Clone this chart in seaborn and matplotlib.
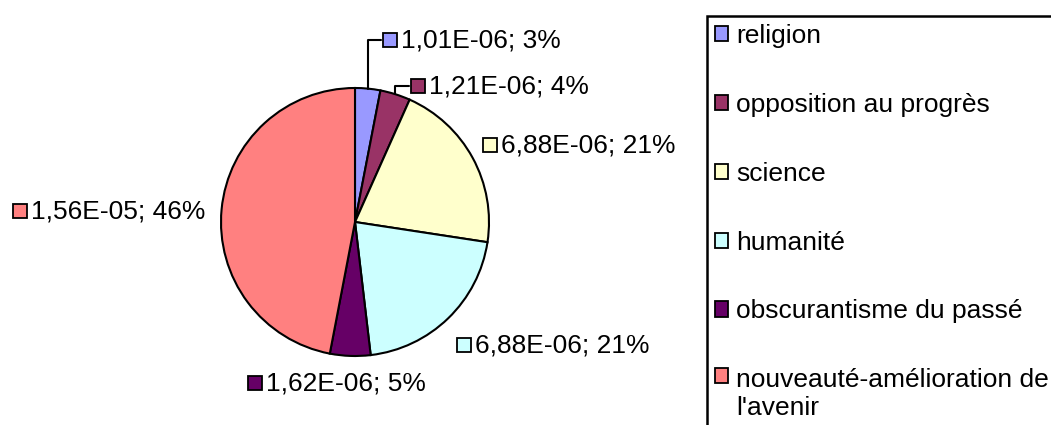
import matplotlib
matplotlib.use("Agg")
import matplotlib.pyplot as plt
from matplotlib.patches import Patch
import numpy as np
import seaborn as sns

# data
categories = ["religion", "opposition au progrès", "science", "humanité",
              "obscurantisme du passé", "nouveauté-amélioration de\nl'avenir"]
values = [1.01e-06, 1.21e-06, 6.88e-06, 6.88e-06, 1.62e-06, 1.56e-05]
value_text = ["1,01E-06", "1,21E-06", "6,88E-06", "6,88E-06", "1,62E-06", "1,56E-05"]
percent_text = ["3%", "4%", "21%", "21%", "5%", "46%"]
colors = ["#9999FF", "#993366", "#FFFFCC", "#CCFFFF", "#660066", "#FF8080"]

sns.set_theme(style="white")
plt.rcParams["font.family"] = ["Liberation Sans", "DejaVu Sans"]
plt.rcParams["text.color"] = "black"

W, H = 1051, 425
fig = plt.figure(figsize=(W / 100, H / 100), dpi=100)
ax = fig.add_axes([0, 0, 1, 1])

cx, cy, r = 355, H - 222, 134
wedges, _ = ax.pie(values, colors=colors, startangle=90, counterclock=False,
                   center=(cx, cy), radius=r, frame=True,
                   wedgeprops=dict(edgecolor="black", linewidth=1.5))
ax.set_xlim(0, W)
ax.set_ylim(0, H)
ax.set_aspect("equal")
ax.axis("off")

# label anchor (square marker centre) in pixel space, top-left origin
label_pos = [(390, 40), (418, 86), (490, 145), (464, 345), (255, 383), (20, 211)]
fs = 19
for i, w in enumerate(wedges):
    lx, ly = label_pos[i]
    ly = H - ly
    ax.plot(lx, ly, marker="s", markersize=10, markerfacecolor=colors[i],
            markeredgecolor="black", markeredgewidth=1.3, zorder=5)
    ax.text(lx + 11, ly, f"{value_text[i]}; {percent_text[i]}", fontsize=fs,
            va="center", ha="left", color="black")
    # leader lines for the two thin slices at the top
    if i < 2:
        mid = np.deg2rad((w.theta1 + w.theta2) / 2)
        ex, ey = cx + r * np.cos(mid), cy + r * np.sin(mid)
        ax.plot([ex, ex, lx - 9], [ey, ly, ly], color="black", lw=1.5, zorder=4)

handles = [Patch(facecolor=c, edgecolor="black", linewidth=1.3) for c in colors]
leg = fig.legend(handles, categories, loc="upper left",
                 bbox_to_anchor=(707 / W, 1 - 16 / H), fontsize=fs,
                 frameon=True, fancybox=False, edgecolor="black", framealpha=1,
                 handlelength=0.5, handleheight=0.5, handletextpad=0.3,
                 labelspacing=1.7, borderpad=0.3, borderaxespad=0)
leg.get_frame().set_linewidth(1.8)
for t in leg.get_texts():
    t.set_color("black")

# keep the marker of the wrapped last entry level with its first line
rows = leg._legend_handle_box.get_children()[0].get_children()
rows[-1].align = "top"

fig.savefig("out.png", dpi=100)
